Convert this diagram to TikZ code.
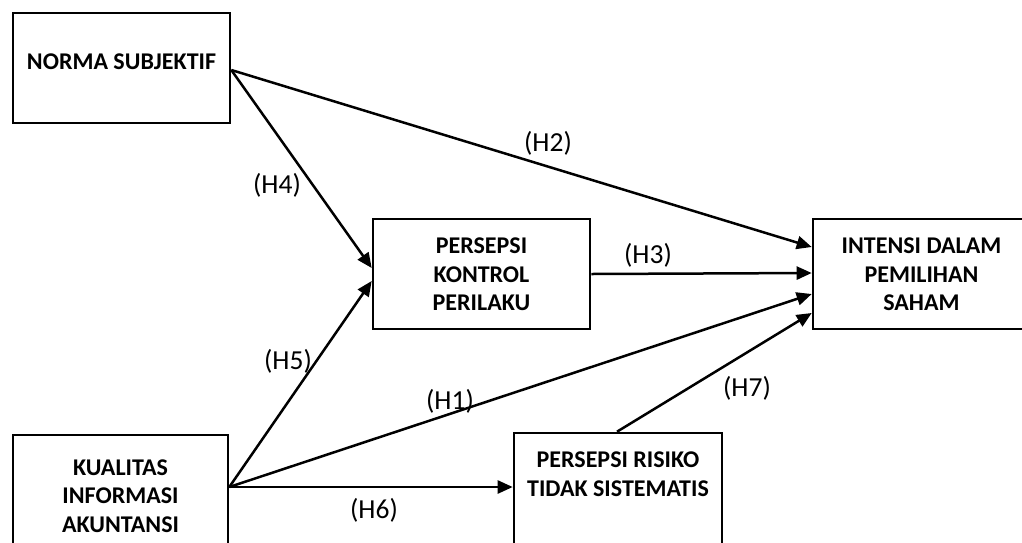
\documentclass[tikz,border=0pt]{standalone}
\usepackage{fontspec}
\setmainfont{Carlito}
\usetikzlibrary{arrows.meta,calc}
\begin{document}
\begin{tikzpicture}[x=1pt,y=-1pt,
  box/.style={draw, line width=2.6pt, inner sep=0pt},
  btxt/.style={font=\fontsize{24}{28.7}\selectfont\bfseries, align=center, inner sep=0pt},
  hlab/.style={font=\fontsize{27.5}{30}\selectfont, inner sep=0pt},
  arr/.style={line width=2.5pt, -{Triangle[length=15pt,width=13pt]}}]
\fill[white] (0,0) rectangle (1022,542);
\useasboundingbox (0,0) rectangle (1022,542);
% boxes
\node[box, minimum width=217pt, minimum height=110pt] (ns) at (121.5,68) {};
\node[btxt] (nst) at (121.5,62) {NORMA SUBJEKTIF};
\node[box, minimum width=217pt, minimum height=110pt] (pkp) at (481.5,274) {};
\node[btxt] (pkpt) at (481.5,274.5) {PERSEPSI\\KONTROL\\PERILAKU};
\node[box, minimum width=217pt, minimum height=110pt] (int) at (921.5,274) {};
\node[btxt] (intt) at (921.5,274.5) {INTENSI DALAM\\PEMILIHAN\\SAHAM};
\node[box, minimum width=215pt, minimum height=122pt] (kia) at (120.5,496) {};
\node[btxt] (kiat) at (120.5,496) {KUALITAS\\INFORMASI\\AKUNTANSI};
\node[box, minimum width=208pt, minimum height=124pt] (prts) at (618,495) {};
\node[btxt] (prtst) at (618,474.5) {PERSEPSI RISIKO\\TIDAK SISTEMATIS};
% connection points
\coordinate (nsout) at ($(ns.east)+(0,2)$);
\coordinate (kiaout) at ($(kia.east)+(0,-9)$);
% arrows
\draw[arr] (nsout) -- ($(int.west)+(0,-27)$);
\draw[arr] (nsout) -- ($(pkp.west)+(0,-6)$);
\draw[arr] (kiaout) -- ($(pkp.west)+(0,7)$);
\draw[arr] (kiaout) -- ($(int.west)+(0,20)$);
\draw[arr] (kiaout) -- ($(prts.west)+(0,-8)$);
\draw[arr] (pkp.east) -- ($(int.west)+(0,-1)$);
\draw[arr] ($(prts.north)+(-1,0)$) -- ($(int.west)+(0,39)$);
% labels
\node[hlab] (h2) at (548,143) {(H2)};
\node[hlab] (h4) at (277,185) {(H4)};
\node[hlab] (h5) at (288,361) {(H5)};
\node[hlab] (h1) at (450,401) {(H1)};
\node[hlab] (h3) at (648,255) {(H3)};
\node[hlab] (h6) at (374,510) {(H6)};
\node[hlab] (h7) at (747,388) {(H7)};
\end{tikzpicture}
\end{document}
